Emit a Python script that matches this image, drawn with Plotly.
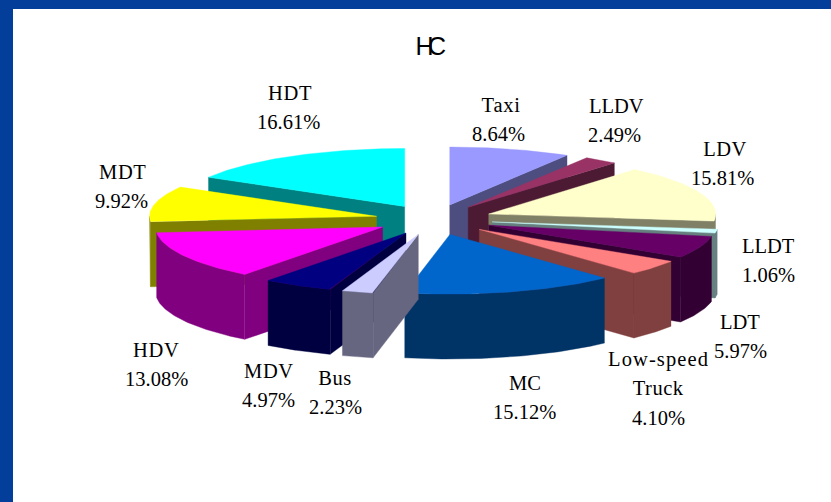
import numpy as np
import plotly.graph_objects as go

# --- data ---
categories = ["Taxi", "LLDV", "LDV", "LLDT", "LDT", "Low-speed Truck", "MC",
              "Bus", "MDV", "HDV", "MDT", "HDT"]
shares = [8.64, 2.49, 15.81, 1.06, 5.97, 4.10, 15.12, 2.23, 4.97, 13.08, 9.92, 16.61]
top_colors = ["#9999FF", "#993366", "#FFFFCC", "#CCFFFF", "#660066", "#FF8080",
              "#0066CC", "#CCCCFF", "#000080", "#FF00FF", "#FFFF00", "#00FFFF"]
side_colors = ["#4D4D80", "#4D1A33", "#808066", "#668080", "#330033", "#804040",
               "#003366", "#666680", "#000040", "#800080", "#808000", "#008080"]
title_text = "HC"

# --- picture geometry ---
W, H = 831, 502
CX, CY = 434, 219.5      # pie centre, px
RX, RY = 227, 58         # radius of the tilted pie, px per data unit
DEPTH = 63 / RY          # wall height in y data units
PULL = 0.259             # explosion of each slice
FRONT_STRETCH = 0.03     # slight perspective towards the viewer
BORDER = "#023E9A"

# label line positions in px
label_lines = {
    "Taxi": [(501, 105), (498, 134)],
    "LLDV": [(616, 106), (614, 135)],
    "LDV": [(725, 149), (722, 178)],
    "LLDT": [(768, 246), (768, 275)],
    "LDT": [(740, 322), (740, 351)],
    "Low-speed Truck": [(658, 359), (658, 388), (658, 418)],
    "MC": [(525, 383), (524, 412)],
    "Bus": [(335, 378), (335, 407)],
    "MDV": [(269, 371), (268, 400)],
    "HDV": [(156, 350), (156, 379)],
    "MDT": [(123, 172), (122, 201)],
    "HDT": [(290, 93), (288, 122)],
}

fig = go.Figure()


def poly(xs, ys, color, name):
    ys = np.asarray(ys, dtype=float)
    ys = np.where(ys < 0, ys * (1 + FRONT_STRETCH), ys)
    fig.add_trace(go.Scatter(x=xs, y=ys, mode="lines", fill="toself", fillcolor=color,
                             line=dict(color=color, width=0.4), name=name,
                             hoverinfo="skip", showlegend=False))


edges = np.concatenate([[0], np.cumsum(shares)]) / sum(shares) * 2 * np.pi
slices = []
for i, name in enumerate(categories):
    slices.append((edges[i], edges[i + 1], i))
# back-to-front painting
slices.sort(key=lambda s: -np.cos((s[0] + s[1]) / 2))

for a, b, i in slices:
    mid = (a + b) / 2
    ox, oy = PULL * np.sin(mid), PULL * np.cos(mid)
    name = categories[i]
    side = side_colors[i]
    # radial walls facing the viewer
    if np.sin(b) > 0:
        ex, ey = ox + np.sin(b), oy + np.cos(b)
        poly([ox, ex, ex, ox, ox], [oy, ey, ey - DEPTH, oy - DEPTH, oy], side, name)
    if np.sin(a) < 0:
        ex, ey = ox + np.sin(a), oy + np.cos(a)
        poly([ox, ex, ex, ox, ox], [oy, ey, ey - DEPTH, oy - DEPTH, oy], side, name)
    # outer wall on the front half of the rim
    lo, hi = max(a, np.pi / 2), min(b, 3 * np.pi / 2)
    if hi > lo:
        t = np.linspace(lo, hi, 60)
        rx, ry = ox + np.sin(t), oy + np.cos(t)
        poly(np.r_[rx, rx[::-1]], np.r_[ry, ry[::-1] - DEPTH], side, name)
    # top face
    t = np.linspace(a, b, 80)
    poly(np.r_[ox, ox + np.sin(t), ox], np.r_[oy, oy + np.cos(t), oy], top_colors[i], name)

ann = []
for i, name in enumerate(categories):
    lines = ("Low-speed", "Truck") if name == "Low-speed Truck" else (name,)
    texts = list(lines) + [f"{shares[i]:.2f}%"]
    for txt, (px, py) in zip(texts, label_lines[name]):
        ann.append(dict(x=px / W, y=1 - py / H, xref="paper", yref="paper", text=txt,
                        showarrow=False, xanchor="center", yanchor="middle",
                        font=dict(family="Liberation Serif", size=20.5, color="#000000")))
ann.append(dict(x=428.5 / W, y=1 - 46 / H, xref="paper", yref="paper", text=title_text,
                showarrow=False, xanchor="center", yanchor="middle",
                font=dict(family="Liberation Sans", size=25, color="#000000")))

shapes = [
    dict(type="rect", xref="paper", yref="paper", x0=0, x1=1, y0=1 - 9 / H, y1=1,
         fillcolor=BORDER, line_width=0, layer="above"),
    dict(type="rect", xref="paper", yref="paper", x0=0, x1=13 / W, y0=0, y1=1,
         fillcolor=BORDER, line_width=0, layer="above"),
]

fig.update_layout(
    width=W, height=H, autosize=False,
    margin=dict(l=0, r=0, t=0, b=0),
    paper_bgcolor="#FFFFFF", plot_bgcolor="#FFFFFF",
    xaxis=dict(visible=False, range=[(0 - CX) / RX, (W - CX) / RX], fixedrange=True),
    yaxis=dict(visible=False, range=[(CY - H) / RY, CY / RY], fixedrange=True),
    annotations=ann, shapes=shapes, showlegend=False,
)
post = """
document.documentElement.style.overflow = 'hidden';
document.body.style.margin = '0';
var spacing = {'HC': '-5.5px', 'Low-speed': '1.1px', 'Truck': '0.5px', 'Taxi': '0.7px',
               'HDT': '0.6px', 'HDV': '0.6px', 'MDT': '0.6px', 'MDV': '0.6px',
               'Bus': '0.5px', 'LDV': '0.5px'};
document.querySelectorAll('.annotation-text').forEach(function (t) {
  var s = spacing[t.textContent];
  if (s) { t.style.letterSpacing = s; }
});
"""
fig.write_html("out.html", config={"displayModeBar": False}, post_script=post)
